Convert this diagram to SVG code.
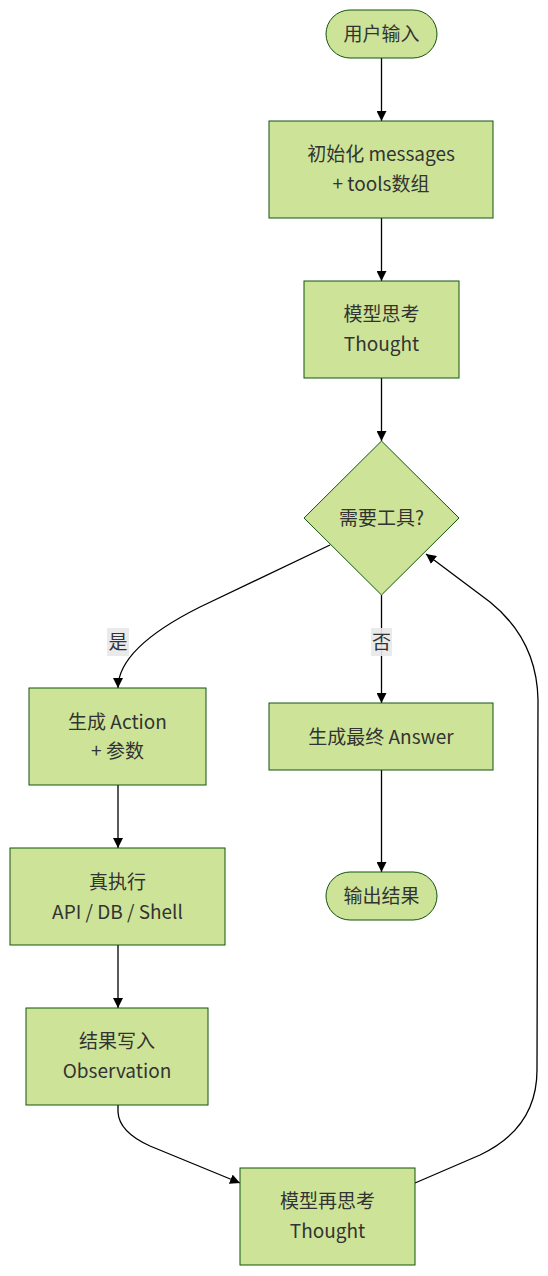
<svg xmlns="http://www.w3.org/2000/svg" width="548" height="1276" viewBox="0 0 548 1276">
<style>
.node{fill:#cde498;stroke:#13540c;stroke-width:1}
.t{font-family:"Noto Sans CJK SC","Noto Sans",sans-serif;font-size:19px;fill:#333;text-anchor:middle}
.e{fill:none;stroke:#000;stroke-width:1.3}
.lb{fill:#e8e8e8;opacity:0.9}
</style>
<defs>
<marker id="arr" viewBox="0 0 10 10" refX="10" refY="5" markerWidth="10" markerHeight="10" markerUnits="userSpaceOnUse" orient="auto">
<path d="M0,0 L10,5 L0,10 z" fill="#000"/>
</marker>
</defs>
<rect width="548" height="1276" fill="#fff"/>
<g id="edges">
<path class="e" d="M381.5,58 L381.5,121" marker-end="url(#arr)"/>
<path class="e" d="M381.5,218 L381.5,281" marker-end="url(#arr)"/>
<path class="e" d="M381.5,378 L381.5,441" marker-end="url(#arr)"/>
<path class="e" d="M330,545 L200,607 Q118,648 118,688" marker-end="url(#arr)"/>
<path class="e" d="M381.5,595 L381.5,703" marker-end="url(#arr)"/>
<path class="e" d="M381.5,770 L381.5,872" marker-end="url(#arr)"/>
<path class="e" d="M118,785 L118,848" marker-end="url(#arr)"/>
<path class="e" d="M118,945 L118,1008" marker-end="url(#arr)"/>
<path class="e" d="M118,1105 L118,1112 Q119,1132 150,1146 L240,1183" marker-end="url(#arr)"/>
<path class="e" d="M415,1183 L480,1155 Q537,1128 537,1070 L538,700 Q537,640 490,602 L426,554" marker-end="url(#arr)"/>
<g id="label-yes"><rect class="lb" x="107" y="628" width="22" height="28"/><text class="t" x="118" y="649">是</text></g>
<g id="label-no"><rect class="lb" x="371" y="628" width="21" height="28"/><text class="t" x="381.5" y="649">否</text></g>
</g>
<g id="start"><rect class="node" x="326" y="10" width="111" height="48" rx="24"/><text class="t" x="381.5" y="41">用户输入</text></g>
<g id="init"><rect class="node" x="269" y="121" width="224" height="97"/><text class="t" x="381" y="161">初始化 messages</text><text class="t" x="381" y="191">+ tools数组</text></g>
<g id="think"><rect class="node" x="304" y="281" width="155" height="97"/><text class="t" x="381.5" y="321">模型思考</text><text class="t" x="381.5" y="351">Thought</text></g>
<g id="decide"><polygon class="node" points="381.5,441 459,518 381.5,595 304,518"/><text class="t" x="381.5" y="525">需要工具?</text></g>
<g id="action"><rect class="node" x="29" y="688" width="177" height="97"/><text class="t" x="117.5" y="729">生成 Action</text><text class="t" x="117.5" y="758">+ 参数</text></g>
<g id="answer"><rect class="node" x="269" y="703" width="224" height="67"/><text class="t" x="381" y="744">生成最终 Answer</text></g>
<g id="output"><rect class="node" x="326" y="872" width="111" height="48" rx="24"/><text class="t" x="381.5" y="903">输出结果</text></g>
<g id="exec"><rect class="node" x="10" y="848" width="215" height="97"/><text class="t" x="117.5" y="889">真执行</text><text class="t" x="117.5" y="919">API / DB / Shell</text></g>
<g id="observe"><rect class="node" x="26" y="1008" width="182" height="97"/><text class="t" x="117" y="1048">结果写入</text><text class="t" x="117" y="1078">Observation</text></g>
<g id="rethink"><rect class="node" x="240" y="1168" width="175" height="97"/><text class="t" x="327.5" y="1208">模型再思考</text><text class="t" x="327.5" y="1238">Thought</text></g>
</svg>
